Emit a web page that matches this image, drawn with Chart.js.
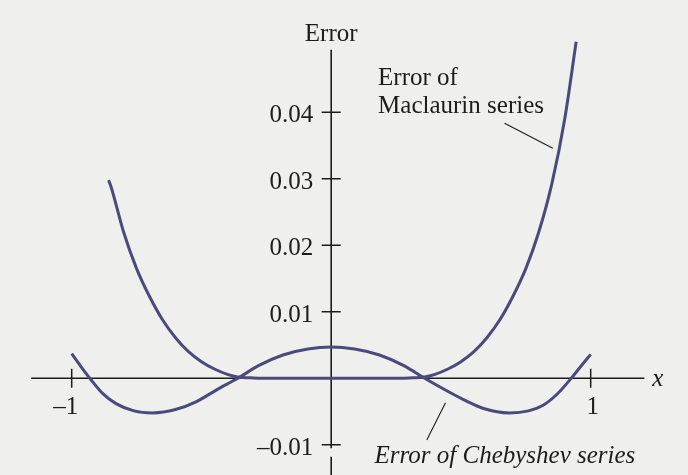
<!DOCTYPE html>
<html>
<head>
<meta charset="utf-8">
<script src="https://cdn.jsdelivr.net/npm/chart.js@4"></script>
<style>
  html, body { margin: 0; padding: 0; background: #efefed; }
  #c { display: block; }
</style>
</head>
<body>
<canvas id="c" width="688" height="475"></canvas>
<script>
// ---- data ----
const maclaurinX = [-0.858, -0.85, -0.80, -0.75, -0.70, -0.65, -0.60, -0.55, -0.50, -0.45, -0.40, -0.36, -0.30, -0.2, 0, 0.2, 0.30, 0.36, 0.40, 0.45, 0.50, 0.55, 0.60, 0.65, 0.70, 0.75, 0.80, 0.85, 0.90, 0.944];
const maclaurinY = [0.0298, 0.0290, 0.0220, 0.0165, 0.0123, 0.0088, 0.0061, 0.0040, 0.0025, 0.0014, 0.0006, 0.0002, 0.00005, 0, 0, 0, 0.00005, 0.0002, 0.0006, 0.0014, 0.0025, 0.0040, 0.0061, 0.0088, 0.0123, 0.0165, 0.0220, 0.0292, 0.0390, 0.0506];

const chebyshevX = [-1.0, -0.965, -0.93, -0.88, -0.829, -0.76, -0.688, -0.60, -0.519, -0.44, -0.36, -0.28, -0.186, -0.09, 0, 0.09, 0.186, 0.28, 0.36, 0.456, 0.52, 0.584, 0.687, 0.76, 0.815, 0.87, 0.925, 0.96, 1.0];
const chebyshevY = [0.0037, 0.0018, 0, -0.0023, -0.0038, -0.0049, -0.0052, -0.0047, -0.0035, -0.0017, 0, 0.0019, 0.0035, 0.0044, 0.0047, 0.0044, 0.0035, 0.0019, 0, -0.0021, -0.0034, -0.0045, -0.0052, -0.0049, -0.0041, -0.0024, 0, 0.0017, 0.0036];

const yTickValues = [0.04, 0.03, 0.02, 0.01, -0.01];
const yTickLabels = ["0.04", "0.03", "0.02", "0.01", "\u20130.01"];
const xTickValues = [-1, 1];
const xTickLabels = ["\u20131", "1"];

const yAxisTitle = "Error";
const xAxisTitle = "x";
const maclaurinLabel = ["Error of", "Maclaurin series"];
const chebyshevLabel = "Error of Chebyshev series";

// ---- styling / layout (not data) ----
const CURVE = '#4b4a7c';
const INK = '#1c1c1c';
const FONT = "25px 'Liberation Serif', 'Times New Roman', serif";
const IFONT = "italic 25px 'Liberation Serif', 'Times New Roman', serif";

const toPts = (xs, ys) => xs.map((x, i) => ({ x: x, y: ys[i] }));

const axesPlugin = {
  id: 'axesPlugin',
  beforeDraw(chart) {
    const ctx = chart.ctx;
    ctx.save();
    ctx.fillStyle = '#efefed';
    ctx.fillRect(0, 0, chart.width, chart.height);
    ctx.restore();
  },
  beforeDatasetsDraw(chart) {
    const ctx = chart.ctx;
    const xs = chart.scales.x, ys = chart.scales.y;
    const px = v => xs.getPixelForValue(v);
    const py = v => ys.getPixelForValue(v);
    const x0 = px(0), y0 = py(0);
    ctx.save();
    ctx.strokeStyle = INK;
    ctx.fillStyle = INK;
    ctx.lineWidth = 1.6;
    // y axis (with the small break below -0.01)
    ctx.beginPath();
    ctx.moveTo(x0, py(0.0494));
    ctx.lineTo(x0, py(-0.0105));
    ctx.moveTo(x0, py(-0.0118));
    ctx.lineTo(x0, chart.height);
    // x axis
    ctx.moveTo(px(-1.156), y0);
    ctx.lineTo(px(1.207), y0);
    ctx.stroke();
    // ticks
    ctx.lineWidth = 1.5;
    ctx.beginPath();
    yTickValues.forEach(v => { ctx.moveTo(x0 - 9.5, py(v)); ctx.lineTo(x0 + 9.5, py(v)); });
    xTickValues.forEach(v => { ctx.moveTo(px(v), y0 - 9.5); ctx.lineTo(px(v), y0 + 9.5); });
    ctx.stroke();
    // tick labels
    ctx.font = FONT;
    ctx.textBaseline = 'alphabetic';
    ctx.textAlign = 'right';
    yTickValues.forEach((v, i) => {
      ctx.fillText(yTickLabels[i], x0 - 18, py(v) + 10);
    });
    ctx.textAlign = 'right';
    ctx.fillText(xTickLabels[0], px(xTickValues[0]) + 6.5, y0 + 35.5);
    ctx.textAlign = 'center';
    ctx.fillText(xTickLabels[1], px(xTickValues[1]) + 2, y0 + 35.5);
    // axis titles
    ctx.textAlign = 'center';
    ctx.fillText(yAxisTitle, x0, py(0.05077));
    ctx.font = IFONT;
    ctx.textAlign = 'left';
    ctx.fillText(xAxisTitle, px(1.237), y0 + 7.5);
    // annotations
    ctx.font = FONT;
    ctx.textAlign = 'left';
    ctx.fillText(maclaurinLabel[0], px(0.1807), py(0.0441));
    ctx.fillText(maclaurinLabel[1], px(0.1807), py(0.03985));
    ctx.font = IFONT;
    ctx.fillText(chebyshevLabel, px(0.1669), py(-0.01278), 266);
    ctx.lineWidth = 1.1;
    ctx.beginPath();
    ctx.moveTo(px(0.668), py(0.03835));
    ctx.lineTo(px(0.854), py(0.03459));
    ctx.moveTo(px(0.4405), py(-0.00367));
    ctx.lineTo(px(0.3684), py(-0.00928));
    ctx.stroke();
    ctx.restore();
  }
};

new Chart(document.getElementById('c'), {
  type: 'scatter',
  data: {
    datasets: [
      {
        label: 'Error of Maclaurin series',
        data: toPts(maclaurinX, maclaurinY),
        showLine: true,
        borderColor: CURVE,
        borderWidth: 3,
        pointRadius: 0,
        cubicInterpolationMode: 'monotone',
        fill: false
      },
      {
        label: 'Error of Chebyshev series',
        data: toPts(chebyshevX, chebyshevY),
        showLine: true,
        borderColor: CURVE,
        borderWidth: 3,
        pointRadius: 0,
        cubicInterpolationMode: 'monotone',
        fill: false
      }
    ]
  },
  options: {
    responsive: false,
    animation: false,
    devicePixelRatio: 1,
    layout: { padding: 0 },
    plugins: { legend: { display: false }, tooltip: { enabled: false } },
    scales: {
      x: { type: 'linear', min: -1.2763, max: 1.375, display: false },
      y: { type: 'linear', min: -0.01454, max: 0.05689, display: false }
    }
  },
  plugins: [axesPlugin]
});
</script>
</body>
</html>
